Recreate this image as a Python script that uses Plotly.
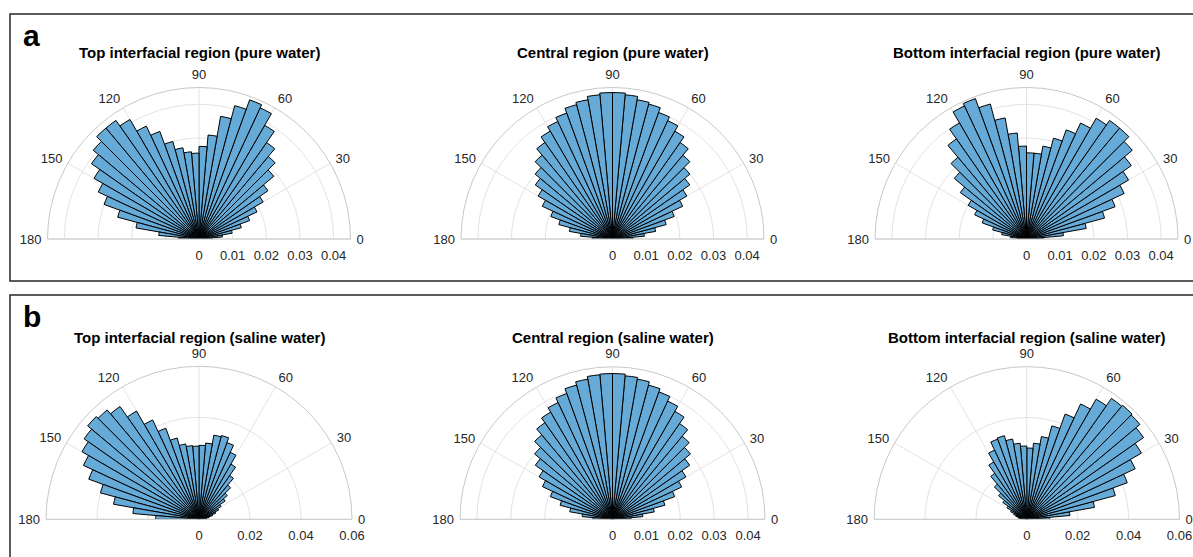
import plotly.graph_objects as go

# ---------------- data ----------------
bin_centers = [2.5, 7.5, 12.5, 17.5, 22.5, 27.5, 32.5, 37.5, 42.5, 47.5, 52.5, 57.5,
               62.5, 67.5, 72.5, 77.5, 82.5, 87.5, 92.5, 97.5, 102.5, 107.5, 112.5, 117.5,
               122.5, 127.5, 132.5, 137.5, 142.5, 147.5, 152.5, 157.5, 162.5, 167.5, 172.5, 177.5]
bin_width = 5

top_pure = [0.004, 0.007, 0.010, 0.013, 0.016, 0.019, 0.022, 0.025, 0.029, 0.032, 0.035, 0.039,
            0.043, 0.044, 0.041, 0.037, 0.031, 0.0275, 0.0255, 0.026, 0.0275, 0.030, 0.034, 0.037,
            0.041, 0.043, 0.043, 0.041, 0.039, 0.036, 0.033, 0.030, 0.025, 0.019, 0.012, 0.006]
central_pure = [0.006, 0.0095, 0.013, 0.0165, 0.0195, 0.023, 0.0255, 0.028, 0.030, 0.0325, 0.035, 0.037,
                0.0388, 0.040, 0.0415, 0.042, 0.043, 0.0435, 0.0435, 0.043, 0.042, 0.0413, 0.0398, 0.0385,
                0.037, 0.035, 0.0325, 0.030, 0.028, 0.0255, 0.023, 0.0195, 0.0165, 0.013, 0.0095, 0.006]
bottom_pure = [0.005, 0.011, 0.018, 0.024, 0.028, 0.032, 0.035, 0.038, 0.041, 0.043, 0.043, 0.0414,
               0.038, 0.0345, 0.031, 0.028, 0.0256, 0.0256, 0.0276, 0.0316, 0.0365, 0.0415, 0.0444, 0.0436,
               0.0398, 0.0363, 0.0317, 0.028, 0.024, 0.020, 0.017, 0.014, 0.0104, 0.0075, 0.0048, 0.0027]

top_saline = [0.002, 0.003, 0.004, 0.0055, 0.007, 0.0085, 0.010, 0.0125, 0.0145, 0.0175, 0.021, 0.025,
              0.029, 0.032, 0.034, 0.0335, 0.030, 0.029, 0.0287, 0.029, 0.030, 0.033, 0.038, 0.043,
              0.049, 0.054, 0.056, 0.057, 0.055, 0.053, 0.050, 0.046, 0.040, 0.034, 0.026, 0.017]
central_saline = [0.0055, 0.009, 0.0125, 0.016, 0.0195, 0.0225, 0.025, 0.0278, 0.030, 0.032, 0.0345, 0.0368,
                  0.0385, 0.040, 0.041, 0.042, 0.0425, 0.043, 0.043, 0.0428, 0.042, 0.041, 0.0395, 0.038,
                  0.0365, 0.0348, 0.0325, 0.030, 0.0278, 0.025, 0.0228, 0.0195, 0.016, 0.0128, 0.009, 0.0058]
bottom_saline = [0.009, 0.017, 0.027, 0.036, 0.042, 0.047, 0.052, 0.056, 0.058, 0.0585, 0.058, 0.0545,
                 0.050, 0.044, 0.038, 0.033, 0.030, 0.028, 0.0288, 0.030, 0.032, 0.034, 0.0335, 0.030,
                 0.026, 0.022, 0.018, 0.0145, 0.0115, 0.009, 0.007, 0.0055, 0.0045, 0.0035, 0.003, 0.002]

titles = ["Top interfacial region (pure water)", "Central region (pure water)",
          "Bottom interfacial region (pure water)",
          "Top interfacial region (saline water)", "Central region (saline water)",
          "Bottom interfacial region (saline water)"]
series = [top_pure, central_pure, bottom_pure, top_saline, central_saline, bottom_saline]

angle_ticks = [0, 30, 60, 90, 120, 150, 180]
angle_labels = ["0", "30", "60", "90", "120", "150", "180"]
radial_ticks_small = [0, 0.01, 0.02, 0.03, 0.04]
radial_labels_small = ["0", "0.01", "0.02", "0.03", "0.04"]
radial_ticks_large = [0, 0.02, 0.04, 0.06]
radial_labels_large = ["0", "0.02", "0.04", "0.06"]
radial_max = [0.045, 0.045, 0.045, 0.06, 0.045, 0.06]
panel_letters = ["a", "b"]

# ---------------- layout ----------------
W, H = 1193, 557
BAR = "rgb(102,170,215)"
GRID = "#e3e3e3"
TXT = "#262626"
FONT = "Liberation Sans, Arial, Helvetica, sans-serif"

centers = [(199, 239, 151.5), (612.5, 239, 151.5), (1026.5, 239, 151.5),
           (199, 519.3, 153), (612.5, 519.3, 152.5), (1026.8, 519.3, 152.7)]
title_y = [53, 53, 53, 337, 337, 337]

fig = go.Figure()
layout = {}
annotations = []
for i in range(6):
    name = "polar" if i == 0 else f"polar{i+1}"
    cx, cy, R = centers[i]
    big = radial_max[i] > 0.05
    fig.add_trace(go.Barpolar(
        r=series[i], theta=bin_centers, width=[bin_width] * len(bin_centers),
        subplot=name, showlegend=False, hoverinfo="skip",
        marker=dict(color=BAR, line=dict(color="black", width=1)),
    ))
    layout[name] = dict(
        domain=dict(x=[(cx - R) / W, (cx + R) / W], y=[(H - cy) / H, (H - cy + R) / H]),
        sector=[0, 180],
        bgcolor="white",
        angularaxis=dict(
            tickmode="array", tickvals=angle_ticks, ticktext=angle_labels,
            direction="counterclockwise", rotation=0,
            showline=True, linecolor="#c8c8c8", linewidth=1,
            gridcolor=GRID, gridwidth=1,
            ticks="outside", ticklen=3, tickcolor="rgba(0,0,0,0)",
            tickfont=dict(family=FONT, size=13, color=TXT),
        ),
        radialaxis=dict(
            range=[0, radial_max[i]],
            tickmode="array",
            tickvals=radial_ticks_large if big else radial_ticks_small,
            ticktext=radial_labels_large if big else radial_labels_small,
            angle=0, side="clockwise", showline=False,
            ticks="outside", ticklen=5, tickcolor="rgba(0,0,0,0)",
            gridcolor=GRID, gridwidth=1,
            tickfont=dict(family=FONT, size=13, color=TXT),
        ),
    )
    annotations.append(dict(
        text=f"<b>{titles[i]}</b>", x=cx / W, y=1 - title_y[i] / H,
        xref="paper", yref="paper", xanchor="center", yanchor="middle",
        showarrow=False, font=dict(family=FONT, size=15, color="black"),
    ))

for letter, ly in zip(panel_letters, [35, 316]):
    annotations.append(dict(
        text=f"<b>{letter}</b>", x=21 / W, y=1 - ly / H, xref="paper", yref="paper",
        xanchor="left", yanchor="middle", showarrow=False,
        font=dict(family=FONT, size=30, color="black"),
    ))

shapes = [
    dict(type="rect", xref="paper", yref="paper", x0=10 / W, x1=1.02,
         y0=1 - 281 / H, y1=1 - 14 / H, line=dict(color="#262626", width=1.5)),
    dict(type="rect", xref="paper", yref="paper", x0=10 / W, x1=1.02,
         y0=-0.05, y1=1 - 295 / H, line=dict(color="#262626", width=1.5)),
]

fig.update_layout(
    width=W, height=H, margin=dict(l=0, r=0, t=0, b=0),
    paper_bgcolor="white", plot_bgcolor="white",
    annotations=annotations, shapes=shapes,
    font=dict(family=FONT, color=TXT),
    **layout,
)
fig.write_html("out.html", config={"displayModeBar": False},
               post_script="document.body.style.margin='0px';document.body.style.overflow='hidden';")
